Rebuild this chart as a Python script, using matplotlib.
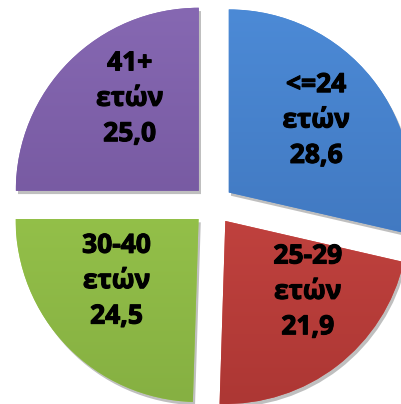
import numpy as np
import matplotlib.pyplot as plt
import matplotlib.colors as mcolors
import matplotlib.patheffects as pe
from matplotlib.patches import Wedge

# Δεδομένα
kategories = ["<=24\nετών", "25-29\nετών", "30-40\nετών", "41+\nετών"]
times = [28.6, 21.9, 24.5, 25.0]
xroma_pano = ["#4c8ad6", "#d24c48", "#a0cf50", "#8668b2"]
xroma_kato = ["#3b6fb5", "#ad3734", "#86b042", "#6b4e94"]

# θέση ετικετών: απόσταση από κέντρο και διόρθωση γωνίας (μοίρες)
lab_r = [0.73, 0.70, 0.67, 0.74]
lab_dtheta = [1, 10, -6, -7]

plt.rcParams['font.family'] = ['Open Sans', 'DejaVu Sans']

fig = plt.figure(figsize=(4.01, 4.04), dpi=100)
ax = fig.add_axes([0, 0, 1, 1])

etiketes = [f"{k}\n{str(v).replace('.', ',')}" for k, v in zip(kategories, times)]

wedges, _ = ax.pie(times, colors=xroma_pano, startangle=90,
                   counterclock=False, explode=[0.11] * 4, radius=1.0)

for i, w in enumerate(wedges):
    cx, cy = w.center
    # σκιά
    sk = Wedge((cx + 0.012, cy - 0.018), w.r, w.theta1, w.theta2,
               facecolor='#000000', alpha=0.25, edgecolor='none', zorder=0.5)
    ax.add_patch(sk)
    w.set_zorder(1)
    # διαβάθμιση
    top = np.array(mcolors.to_rgb(xroma_pano[i]))
    bot = np.array(mcolors.to_rgb(xroma_kato[i]))
    g = np.linspace(0, 1, 200)[:, None, None]
    img = top[None, None, :] * (1 - g) + bot[None, None, :] * g
    img = np.repeat(img, 2, axis=1)
    im = ax.imshow(img, extent=[cx - 1, cx + 1, cy - 1, cy + 1], origin='upper',
                   zorder=2, interpolation='bilinear')
    im.set_clip_path(w)
    # ετικέτα
    th = np.deg2rad((w.theta1 + w.theta2) / 2 + lab_dtheta[i])
    ax.text(lab_r[i] * np.cos(th), lab_r[i] * np.sin(th), etiketes[i],
            ha='center', va='center', fontsize=19, fontweight='bold',
            color='black', linespacing=1.4, zorder=10,
            path_effects=[pe.withStroke(linewidth=0.8, foreground='black')])

ax.set_xlim(-1.164, 1.027)
ax.set_ylim(-1.087, 1.120)
ax.set_aspect('equal')
ax.axis('off')

fig.savefig('out.png', dpi=100)
